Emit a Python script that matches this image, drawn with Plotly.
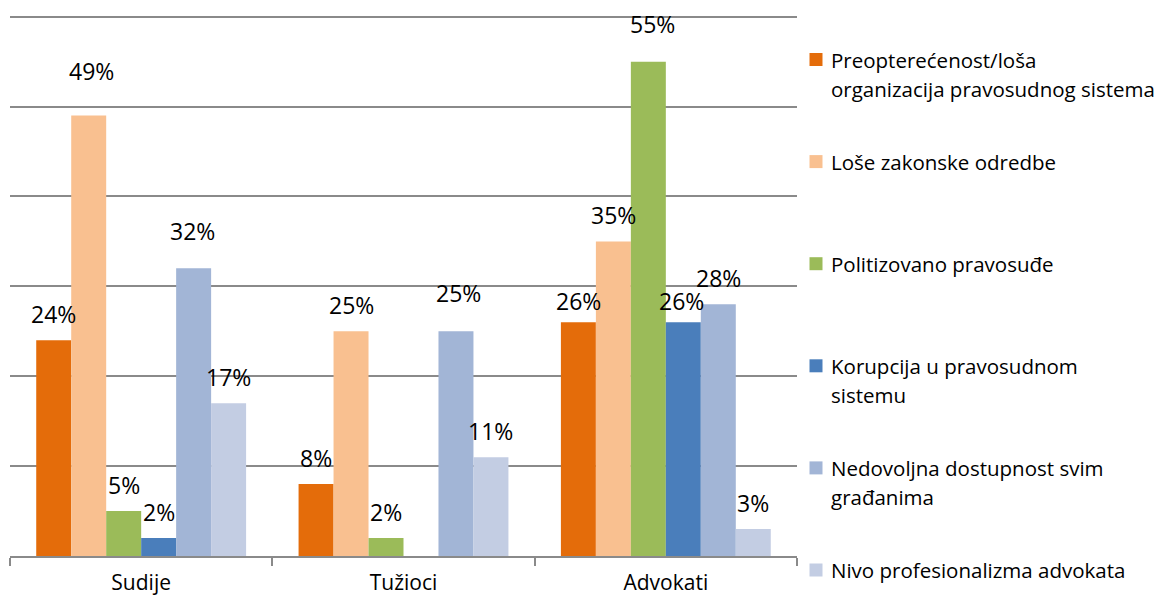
import plotly.graph_objects as go

# Survey results: main problems of the judiciary, by respondent group (%)
groups = ["Sudije", "Tužioci", "Advokati"]
series_names = [
    "Preopterećenost/loša organizacija pravosudnog sistema",
    "Loše zakonske odredbe",
    "Politizovano pravosuđe",
    "Korupcija u pravosudnom sistemu",
    "Nedovoljna dostupnost svim građanima",
    "Nivo profesionalizma advokata",
]
preopterecenost = [24, 8, 26]
lose_odredbe = [49, 25, 35]
politizovano = [5, 2, 55]
korupcija = [2, None, 26]
dostupnost = [32, 25, 28]
profesionalizam = [17, 11, 3]

# legend text, wrapped as in the chart
legend_lines = [
    ["Preopterećenost/loša", "organizacija pravosudnog sistema"],
    ["Loše zakonske odredbe"],
    ["Politizovano pravosuđe"],
    ["Korupcija u pravosudnom", "sistemu"],
    ["Nedovoljna dostupnost svim", "građanima"],
    ["Nivo profesionalizma advokata"],
]

colors = ["#E46C0A", "#F9C090", "#9BBB59", "#4A7EBB", "#A2B5D6", "#C3CDE3"]
values = [preopterecenost, lose_odredbe, politizovano, korupcija, dostupnost, profesionalizam]

FONT = "Open Sans"
GRID = "#8A8A8A"

W, H = 1158, 598
L, R, T, B = 10, 361, 14, 42
plot_w = W - L - R
plot_h = H - T - B

fig = go.Figure()
for name, vals, col in zip(series_names, values, colors):
    fig.add_trace(go.Bar(x=groups, y=vals, name=name, marker_color=col,
                         marker_line_width=0, showlegend=False))

# value labels above the bars; key = (series, group), a few were moved by hand
nudge = {(1, 0): (3, 19), (4, 0): (-1, 11), (4, 1): (3, 12), (2, 2): (4, 12),
         (0, 2): (0, -5), (3, 2): (-2, -5)}
n = len(values)
slot = 0.8 / n
annotations = []
for j, vals in enumerate(values):
    for i, v in enumerate(vals):
        if v is None:
            continue
        dx, dy = nudge.get((j, i), (0, 0))
        annotations.append(dict(
            x=i - 0.4 + slot * (j + 0.5), y=v, xref="x", yref="y",
            text=f"{v}%", showarrow=False, yanchor="middle", xanchor="center",
            xshift=dx, yshift=26 + dy,
            font=dict(family=FONT, size=23, color="#000000"),
        ))

# legend drawn by hand so the swatch lines up with the first text line
def px_x(p):
    return (p - L) / plot_w

def px_y(p):
    return (H - B - p) / plot_h

shapes = []
first_y = 59.5
step = 102.1
line_gap = 29.5
for k, (lines, col) in enumerate(zip(legend_lines, colors)):
    cy = first_y + step * k
    shapes.append(dict(type="rect", xref="paper", yref="paper",
                       x0=px_x(809.5), x1=px_x(822.5), y0=px_y(cy - 6.5), y1=px_y(cy + 6.5),
                       fillcolor=col, line_width=0))
    for m, txt in enumerate(lines):
        annotations.append(dict(
            x=px_x(829), y=px_y(cy + m * line_gap), xref="paper", yref="paper",
            text=txt, showarrow=False, xanchor="left", yanchor="middle",
            font=dict(family=FONT, size=20.5, color="#000000"),
        ))

fig.update_layout(
    width=W, height=H,
    margin=dict(l=L, r=R, t=T, b=B, autoexpand=False),
    paper_bgcolor="white", plot_bgcolor="white",
    barmode="group", bargap=0.2, bargroupgap=0,
    font=dict(family=FONT, color="#000000"),
    annotations=annotations, shapes=shapes,
    showlegend=False,
)
fig.update_xaxes(
    showgrid=False, showline=True, linecolor=GRID, linewidth=1.5,
    ticks="outside", tickson="boundaries", ticklen=8, tickcolor=GRID, tickwidth=1.5,
    tickfont=dict(family=FONT, size=21, color="#000000"), ticklabelstandoff=7,
)
fig.update_yaxes(
    range=[0, 60.3], tickvals=[10, 20, 30, 40, 50, 60], showgrid=True,
    gridcolor=GRID, gridwidth=1.5,
    showticklabels=False, zeroline=False, showline=False,
)

fig.write_html("out.html")
